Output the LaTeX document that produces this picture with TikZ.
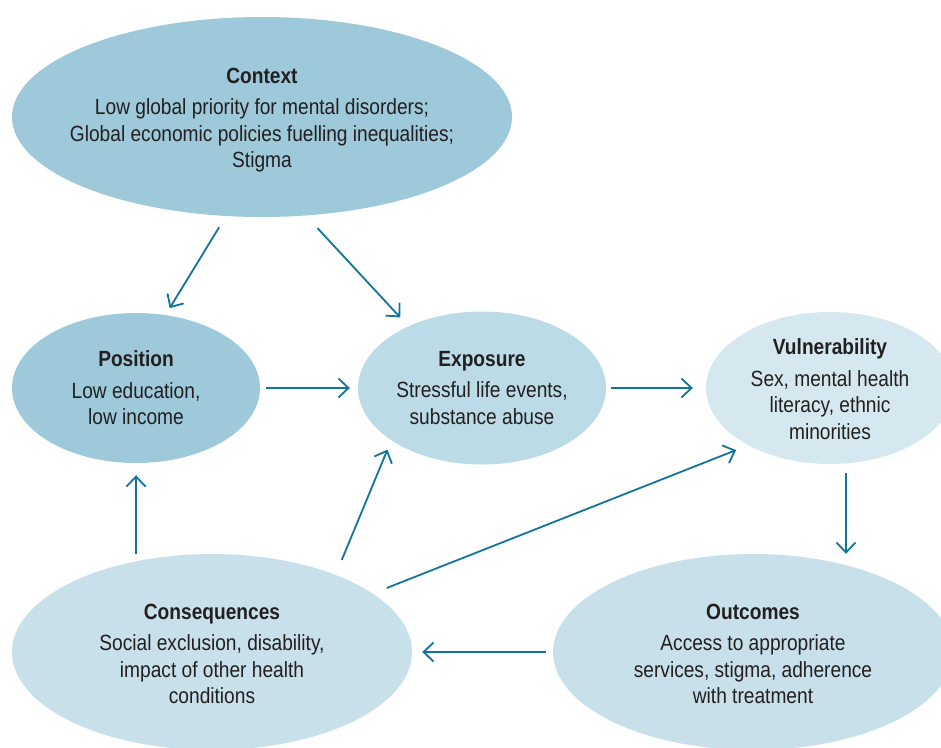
\documentclass[tikz,border=0pt]{standalone}
\usepackage{fontspec}
\setmainfont[FakeStretch=0.87]{Liberation Sans}
\usepackage{tikz}
\usetikzlibrary{shapes.geometric}
\usetikzlibrary{arrows.meta}
\definecolor{deepblue}{HTML}{9DC9DA}
\definecolor{midblue}{HTML}{BBDBE6}
\definecolor{paleblue}{HTML}{D6E8EF}
\definecolor{softblue}{HTML}{C7E0EA}
\definecolor{flowteal}{HTML}{11759A}
\definecolor{inkgrey}{HTML}{231F20}
\tikzset{
	factor/.style={
		ellipse, fill=#1, draw=none, inner sep=0pt
	},
	every label/.style={
		align=center, text=inkgrey, inner sep=0pt,
		font=\fontsize{22}{26.5}\selectfont
	},
	flow/.style={
		draw=flowteal, line width=1.8pt,
		-{Straight Barb[length=10pt,width=19pt,line width=1.8pt]}
	}
}
\def\heading#1{\textbf{#1}\\[5pt]}

\begin{document}
\begin{tikzpicture}[x=1pt, y=-1pt]
    \useasboundingbox (0,0) rectangle (941,747);
    \clip (0,0) rectangle (941,747);

    \node [factor=deepblue, minimum width=500pt, minimum height=200pt,
        label={[yshift=-3pt]center:{\heading{Context}Low global priority for mental disorders;\\
        Global economic policies fuelling inequalities;\\ Stigma}}]
        (Context) at (262,117) {};
    \node [factor=deepblue, minimum width=248pt, minimum height=150pt,
        label={center:{\heading{Position}Low education,\\ low income}}]
        (Position) at (136,388) {};
    \node [factor=midblue, minimum width=248pt, minimum height=153pt,
        label={center:{\heading{Exposure}Stressful life events,\\ substance abuse}}]
        (Exposure) at (482,388) {};
    \node [factor=paleblue, minimum width=248pt, minimum height=152pt,
        label={[yshift=-1pt]center:{\heading{Vulnerability}Sex, mental health\\ literacy, ethnic\\ minorities}}]
        (Vulnerability) at (830,388) {};
    \node [factor=softblue, minimum width=400pt, minimum height=196pt,
        label={[yshift=-2pt]center:{\heading{Consequences}Social exclusion, disability,\\ impact of other health\\ conditions}}]
        (Consequences) at (212,652) {};
    \node [factor=softblue, minimum width=400pt, minimum height=196pt,
        label={[yshift=-2pt]center:{\heading{Outcomes}Access to appropriate\\ services, stigma, adherence\\ with treatment}}]
        (Outcomes) at (753,652) {};

    \draw [flow, shorten <=13pt, shorten >=8pt] (Context.250) -- (Position.68);
    \draw [flow, shorten <=17pt, shorten >=12pt] (Context.294) -- (Exposure.140);
    \draw [flow, shorten <=6pt, shorten >=8pt] (Position.east) -- (Exposure.west);
    \draw [flow, shorten <=5pt, shorten >=13pt] (Exposure.east) -- (Vulnerability.west);
    \draw [flow, shorten <=9pt] ([xshift=16pt]Vulnerability.south) -- ([xshift=16pt]Vulnerability.south |- Outcomes.north);
    \draw [flow, shorten <=7pt, shorten >=10pt] (Outcomes.west) -- (Consequences.east);
    \draw [flow, shorten >=12pt] (Position.south |- Consequences.north) -- (Position.south);
    \draw [flow, shorten <=16pt, shorten >=10pt] (Consequences.32) -- (Exposure.210);
    \draw [flow, shorten <=15pt, shorten >=13pt] (Consequences.20) -- (Vulnerability.215);
\end{tikzpicture}
\end{document}
